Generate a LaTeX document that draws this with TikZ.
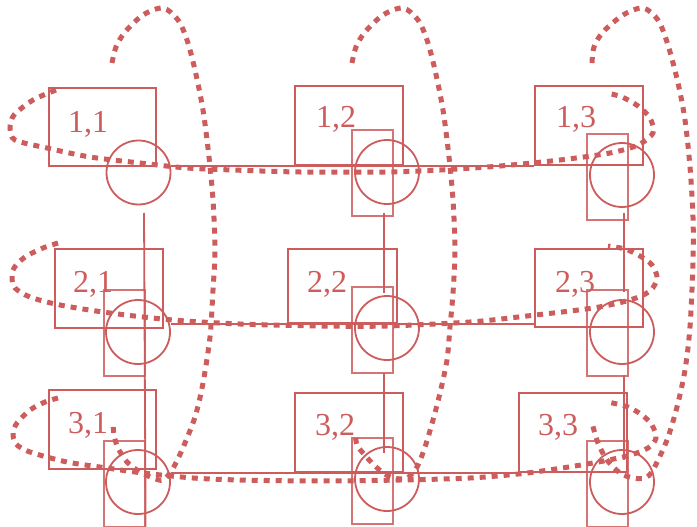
\documentclass[tikz,border=0pt]{standalone}
\usepackage{fontspec}
\setmainfont{Liberation Serif}
\definecolor{ired}{RGB}{205,92,92}
\begin{document}
\begin{tikzpicture}[x=1pt,y=-1pt,
  lbox/.style={draw=ired, line width=2pt, inner sep=0pt, anchor=north west},
  circ/.style={draw=ired, line width=1.8pt, circle, minimum size=64pt, inner sep=0pt},
  srect/.style={draw=ired, line width=1.6pt, draw opacity=0.85, minimum width=41pt, minimum height=86pt, inner sep=0pt, anchor=north west},
  lab/.style={text=ired, font=\fontsize{32}{32}\selectfont, anchor=base, inner sep=0pt},
  wire/.style={draw=ired, line width=1.8pt},
  loopline/.style={draw=ired, line width=5pt, dash pattern=on 6pt off 6pt}]
\useasboundingbox (0,0) rectangle (697,527);

% label boxes
\node[lbox, minimum width=107pt, minimum height=78pt] (box11) at (48,87) {};
\node[lbox, minimum width=108pt, minimum height=79pt] (box12) at (294,85) {};
\node[lbox, minimum width=108pt, minimum height=79pt] (box13) at (534,85) {};
\node[lbox, minimum width=108pt, minimum height=79pt] (box21) at (54,248) {};
\node[lbox, minimum width=109pt, minimum height=74pt] (box22) at (287,248) {};
\node[lbox, minimum width=108pt, minimum height=78pt] (box23) at (534,248) {};
\node[lbox, minimum width=107pt, minimum height=79pt] (box31) at (48,389) {};
\node[lbox, minimum width=108pt, minimum height=79pt] (box32) at (294,392) {};
\node[lbox, minimum width=108pt, minimum height=79pt] (box33) at (518,392) {};

% labels
\node[lab] (l11) at (88,132) {1,1};
\node[lab] (l12) at (336,128) {1,2};
\node[lab] (l13) at (576,128) {1,3};
\node[lab] (l21) at (93,292) {2,1};
\node[lab] (l22) at (327,292) {2,2};
\node[lab] (l23) at (575,292) {2,3};
\node[lab] (l31) at (88,433) {3,1};
\node[lab] (l32) at (335,435) {3,2};
\node[lab] (l33) at (558,435) {3,3};

% circles
\node[circ] (c11) at (138.5,172.5) {};
\node[circ] (c12) at (387,172) {};
\node[circ] (c13) at (622,175) {};
\node[circ] (c21) at (138,332) {};
\node[circ] (c22) at (387,328) {};
\node[circ] (c23) at (622,332) {};
\node[circ] (c31) at (138,482) {};
\node[circ] (c32) at (387,479) {};
\node[circ] (c33) at (622,482) {};

% small rectangles
\node[srect] (s12) at (351,129) {};
\node[srect] (s13) at (586,133) {};
\node[srect] (s21) at (103,289) {};
\node[srect] (s22) at (351,286) {};
\node[srect] (s23) at (586,289) {};
\node[srect] (s31) at (103,440) {};
\node[srect] (s32) at (351,437) {};
\node[srect] (s33) at (586,440) {};

% connector end points
\coordinate (v1a) at (144,213);
\coordinate (v2a) at (384,213);
\coordinate (v2b) at (384,293);
\coordinate (v2c) at (384,373);
\coordinate (v2d) at (384,453);
\coordinate (v3a) at (624,213);
\coordinate (v3b) at (624,292);
\coordinate (v3c) at (624,375);
\coordinate (v3d) at (624,460);

% solid connectors
\draw[wire] (c11.east |- box12.south) -- (box13.south west);
\draw[wire] (c21.east |- box22.south) -- (box22.south -| box23.west);
\draw[wire] (c31.east |- box32.south) -- (box33.south west);
\draw[wire] (v1a) -- (s31.south east);
\draw[wire] (v2a) -- (v2b);
\draw[wire] (v2c) -- (v2d);
\draw[wire] (v3a) -- (v3b);
\draw[wire] (v3c) -- (v3d);

% dotted loops (rows)
\draw[loopline] plot[smooth] coordinates {(56,90) (33,100) (14,115) (10,128) (15,140) (47,148) (90,157) (140,163) (187,168) (233,170) (300,172) (387,172) (440,170) (500,166) (560,160) (610,153) (638,145) (653,133) (650,118) (638,106) (622,97) (607,93)};
\draw[loopline] plot[smooth] coordinates {(58,243) (43,248) (25,257) (14,268) (12,278) (15,288) (30,297) (60,305) (110,313) (173,320) (240,324) (320,326) (387,326) (470,322) (527,316) (593,308) (630,300) (650,291) (657,278) (652,265) (640,256) (625,249) (608,246)};
\draw[loopline] plot[smooth] coordinates {(58,398) (45,402) (30,410) (17,423) (13,433) (16,444) (30,452) (67,462) (107,468) (143,473) (193,478) (240,480) (320,481) (400,480) (470,478) (527,473) (587,464) (627,456) (648,448) (656,438) (652,425) (642,415) (628,407) (608,402)};

% dotted loops (columns)
\draw[loopline] plot[smooth] coordinates {(112,63) (116,47) (125,32) (143,15) (163,8) (178,20) (187,40) (195,70) (203,110) (209,157) (213,200) (215,250) (213,290) (210,337) (203,383) (195,417) (182,450) (172,470) (163,480) (153,478) (140,472) (127,462) (118,448) (114,435) (113,423)};
\draw[loopline] plot[smooth] coordinates {(352,63) (356,47) (365,32) (383,15) (403,8) (418,20) (427,40) (435,70) (443,110) (449,157) (453,200) (455,250) (453,293) (450,327) (447,360) (440,393) (433,420) (425,447) (417,467) (407,478) (393,478) (382,472) (372,463) (363,453) (357,445) (355,433)};
\draw[loopline] plot[smooth] coordinates {(592,63) (594,47) (603,32) (623,15) (643,8) (658,20) (668,45) (678,83) (685,120) (690,167) (693,217) (693,263) (690,327) (685,370) (677,407) (667,440) (653,470) (645,478) (633,478) (620,473) (607,460) (598,443) (592,423)};
\end{tikzpicture}
\end{document}
